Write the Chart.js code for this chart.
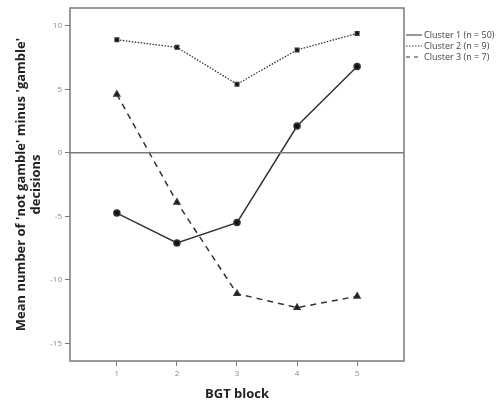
<!DOCTYPE html>
<html>
<head>
<meta charset="utf-8">
<script src="https://cdn.jsdelivr.net/npm/chart.js@4"></script>
<style>
  html, body { margin: 0; padding: 0; background: #fff; }
  #wrap { width: 503px; height: 406px; }
</style>
</head>
<body>
<div id="wrap"><canvas id="bgtChart" width="503" height="406"></canvas></div>
<script>
// ========== DATA ========== //
const blocks = [1, 2, 3, 4, 5];
const yTicks = [-15, -10, -5, 0, 5, 10];
const cluster1 = [-4.75, -7.1, -5.5, 2.1, 6.8];
const cluster2 = [8.9, 8.3, 5.4, 8.1, 9.4];
const cluster3 = [4.6, -3.9, -11.1, -12.2, -11.3];
const seriesLabels = ["Cluster 1 (n = 50)", "Cluster 2 (n = 9)", "Cluster 3 (n = 7)"];

const ink = "#333";
const frame = "#7a7a7a";
const font = "'Open Sans', 'DejaVu Sans', sans-serif";

function toPoints(vals) {
  return blocks.map((b, i) => ({ x: b, y: vals[i] }));
}

// frame, zero line and legend
const extras = {
  id: "extras",
  afterDraw(chart) {
    const { ctx, chartArea: a, scales } = chart;
    ctx.save();
    ctx.strokeStyle = frame;
    ctx.lineWidth = 1.5;
    ctx.strokeRect(a.left, a.top, a.right - a.left, a.bottom - a.top);
    const y0 = scales.y.getPixelForValue(0);
    ctx.beginPath();
    ctx.moveTo(a.left, y0);
    ctx.lineTo(a.right, y0);
    ctx.stroke();

    const dashes = [[], [1.5, 1.5], [4, 4]];
    ctx.font = "9px " + font;
    ctx.textBaseline = "middle";
    seriesLabels.forEach((lab, i) => {
      const y = 35 + i * 11;
      ctx.strokeStyle = ink;
      ctx.lineWidth = 1;
      ctx.setLineDash(dashes[i]);
      ctx.beginPath();
      ctx.moveTo(406, y);
      ctx.lineTo(422, y);
      ctx.stroke();
      ctx.setLineDash([]);
      ctx.fillStyle = "#444";
      ctx.fillText(lab, 424, y);
    });
    ctx.restore();
  }
};

new Chart(document.getElementById("bgtChart").getContext("2d"), {
  type: "line",
  data: {
    datasets: [
      {
        label: seriesLabels[0],
        data: toPoints(cluster1),
        borderColor: ink,
        backgroundColor: "#111",
        borderWidth: 1.5,
        pointStyle: "circle",
        pointRadius: 3
      },
      {
        label: seriesLabels[1],
        data: toPoints(cluster2),
        borderColor: ink,
        backgroundColor: "#111",
        borderWidth: 1.3,
        borderDash: [1.5, 1.5],
        pointStyle: "rect",
        pointRadius: 2.6
      },
      {
        label: seriesLabels[2],
        data: toPoints(cluster3),
        borderColor: ink,
        backgroundColor: "#111",
        borderWidth: 1.5,
        borderDash: [6, 5],
        pointStyle: "triangle",
        pointRadius: 3.3
      }
    ]
  },
  options: {
    responsive: false,
    animation: false,
    layout: { padding: { top: 8, right: 99, left: 14, bottom: 0 } },
    plugins: {
      legend: { display: false },
      tooltip: { enabled: false }
    },
    scales: {
      x: {
        type: "linear",
        min: 0.22,
        max: 5.78,
        afterBuildTicks: s => { s.ticks = blocks.map(v => ({ value: v })); },
        afterFit: s => { s.height = 45; },
        border: { display: false },
        grid: { drawOnChartArea: false, tickLength: 5, tickColor: frame },
        ticks: { color: "#888", font: { size: 8, family: font }, padding: 3 },
        title: {
          display: true,
          text: "BGT block",
          color: "#222",
          font: { size: 13, weight: "bold", family: font },
          padding: { top: 2 }
        }
      },
      y: {
        min: -16.4,
        max: 11.4,
        afterBuildTicks: s => { s.ticks = yTicks.map(v => ({ value: v })); },
        afterFit: s => { s.width = 56; },
        border: { display: false },
        grid: { drawOnChartArea: false, tickLength: 5, tickColor: frame },
        ticks: { color: "#888", font: { size: 8, family: font }, padding: 3 },
        title: {
          display: true,
          text: ["Mean number of 'not gamble' minus 'gamble'", "decisions"],
          color: "#222",
          font: { size: 13, weight: "bold", family: font, lineHeight: 1.15 },
          padding: { top: 0, bottom: 4 }
        }
      }
    }
  },
  plugins: [extras]
});
</script>
</body>
</html>
